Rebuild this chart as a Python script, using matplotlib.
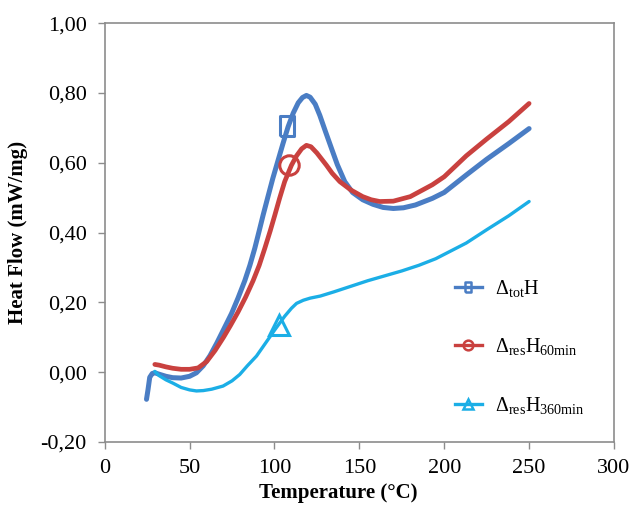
import matplotlib
matplotlib.use("Agg")
import matplotlib.pyplot as plt
from matplotlib.lines import Line2D
from matplotlib.ticker import FuncFormatter

plt.rcParams['font.family'] = ['Liberation Serif', 'DejaVu Serif']
plt.rcParams['mathtext.fontset'] = 'custom'
plt.rcParams['mathtext.rm'] = 'Liberation Serif'
plt.rcParams['mathtext.it'] = 'Liberation Serif:italic'

# ---- data ----
tot_x = [24.6, 25.5, 26.5, 28, 29.5, 32, 36, 40, 45, 50, 54, 58, 62, 66, 70, 74.7, 78.5,
         82.5, 85.5, 88.4, 91, 93.3, 96, 99, 102, 105, 108, 111, 114, 116.5, 118.8, 121,
         124, 126.7, 130, 133.6, 137, 141.4, 146, 152, 158, 164, 170, 176, 183, 193, 200,
         213, 225, 238, 250]
tot_y = [-0.078, -0.05, -0.015, -0.004, -0.002, -0.006, -0.012, -0.016, -0.017, -0.012,
         -0.002, 0.018, 0.047, 0.083, 0.122, 0.168, 0.212, 0.262, 0.306, 0.355, 0.405, 0.45,
         0.50, 0.555, 0.605, 0.655, 0.703, 0.742, 0.772, 0.787, 0.793, 0.788, 0.768, 0.736,
         0.69, 0.641, 0.595, 0.546, 0.515, 0.494, 0.481, 0.472, 0.469, 0.471, 0.479, 0.498,
         0.515, 0.565, 0.61, 0.655, 0.698]

res60_x = [29.5, 32, 36, 40, 45, 50, 55, 60, 65, 70, 74, 78.5, 83, 87.4, 91, 94.3, 97.5,
           100.2, 103, 106, 110, 113, 116, 118.8, 121.5, 125, 130.6, 134, 138.5, 145, 152,
           157, 162, 170, 180, 193, 200, 213, 225, 238, 250]
res60_y = [0.022, 0.02, 0.015, 0.011, 0.008, 0.008, 0.012, 0.03, 0.062, 0.1, 0.133, 0.172,
           0.215, 0.262, 0.306, 0.355, 0.405, 0.45, 0.498, 0.546, 0.593, 0.62, 0.64, 0.65,
           0.646, 0.628, 0.593, 0.57, 0.546, 0.522, 0.503, 0.494, 0.489, 0.49, 0.503, 0.537,
           0.56, 0.62, 0.668, 0.718, 0.77]

res360_x = [29.5, 32, 36, 40.3, 45, 50, 54, 58, 63, 69.7, 75, 79.5, 84, 89.4, 95, 100, 106,
            110, 113, 117, 121, 127, 135, 145, 155, 165, 175, 185, 195, 203, 213, 225, 238, 250]
res360_y = [0.002, -0.01, -0.022, -0.032, -0.044, -0.051, -0.054, -0.053, -0.049, -0.04,
            -0.025, -0.007, 0.018, 0.046, 0.085, 0.12, 0.16, 0.183, 0.197, 0.206, 0.212, 0.218,
            0.23, 0.246, 0.262, 0.276, 0.29, 0.306, 0.325, 0.345, 0.37, 0.408, 0.448, 0.489]

marker_x = [107.5, 108.5, 102.5]
marker_y = [0.706, 0.594, 0.136]

labels = [r'$\Delta_{\mathrm{tot}}\mathrm{H}$',
          r'$\Delta_{\mathrm{res}}\mathrm{H}_{\mathrm{60min}}$',
          r'$\Delta_{\mathrm{res}}\mathrm{H}_{\mathrm{360min}}$']

x_ticks = [0, 50, 100, 150, 200, 250, 300]
y_ticks = [-0.20, 0.00, 0.20, 0.40, 0.60, 0.80, 1.00]

colors = ['#4A7DC4', '#C9413F', '#1BAEE6']
lws = [3.6, 3.4, 2.4]

rect = [(-0.72, -1), (0.72, -1), (0.72, 1), (-0.72, 1), (-0.72, -1)]
markers = [rect, 'o', '^']

fig = plt.figure(figsize=(6.31, 5.05), dpi=100)
ax = fig.add_axes([0.166, 0.125, 0.807, 0.829])

series = [(tot_x, tot_y), (res60_x, res60_y), (res360_x, res360_y)]
for i, (xs, ys) in enumerate(series):
    ax.plot(xs, ys, color=colors[i], lw=lws[i], solid_capstyle='round', solid_joinstyle='round')

msizes = [15, 14, 15]
for i in range(3):
    ax.plot([marker_x[i]], [marker_y[i]], linestyle='none', marker=markers[i],
            markersize=msizes[i], markerfacecolor='none', markeredgecolor=colors[i],
            markeredgewidth=2.2)

handles = [Line2D([0], [0], color=colors[i], lw=2.4, marker=markers[i], markersize=7,
                  markerfacecolor='none', markeredgecolor=colors[i], markeredgewidth=1.8)
           for i in range(3)]
leg = ax.legend(handles, labels, loc='center left', bbox_to_anchor=(0.652, 0.227),
                frameon=False, fontsize=14.5, handlelength=1.35, handletextpad=0.65,
                labelspacing=1.85)

ax.set_xlim(0, 300)
ax.set_ylim(-0.20, 1.00)
ax.set_xticks(x_ticks)
ax.set_yticks(y_ticks)
ax.yaxis.set_major_formatter(FuncFormatter(lambda v, p: ('%.2f' % v).replace('.', ',')))
ax.tick_params(direction='out', length=5, width=1, color='#8C8C8C', labelsize=16)
ax.tick_params(axis='y', pad=8)
ax.tick_params(axis='x', pad=7)
for s in ax.spines.values():
    s.set_color('#8C8C8C')
    s.set_linewidth(1.2)

ax.set_xlabel('Temperature (°C)', fontsize=15, fontweight='bold')
ax.set_ylabel('Heat Flow (mW/mg)', fontsize=15, fontweight='bold')
ax.xaxis.set_label_coords(0.458, -0.098)
ax.yaxis.set_label_coords(-0.151, 0.5)

fig.savefig('out.png', dpi=100)
